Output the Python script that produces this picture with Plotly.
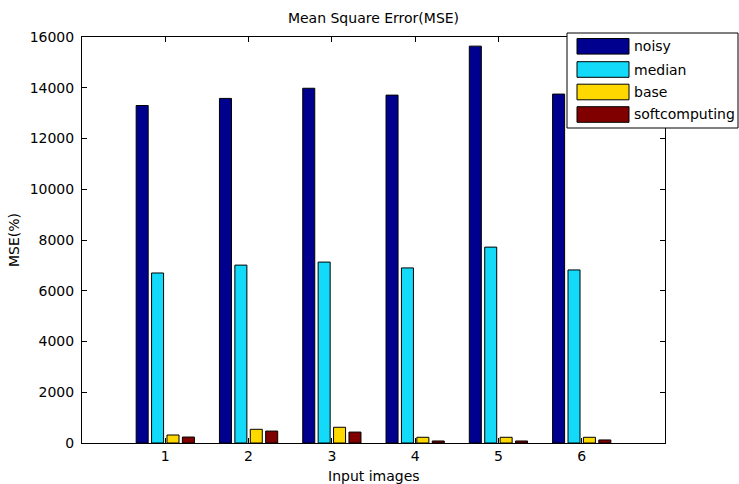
import plotly.graph_objects as go

categories = [1, 2, 3, 4, 5, 6]
tick_labels = ["1", "2", "3", "4", "5", "6"]
noisy = [13300, 13580, 13980, 13710, 15640, 13750]
median = [6700, 7010, 7130, 6900, 7720, 6820]
base = [315, 540, 620, 225, 225, 225]
softcomputing = [235, 470, 430, 80, 80, 120]

series_names = ["noisy", "median", "base", "softcomputing"]
series_values = [noisy, median, base, softcomputing]
series_colors = ["#00008F", "#12DAF8", "#FFD800", "#800000"]

FONT = "DejaVu Sans"
W, H = 739, 484
L, R, T, B = 82, 665, 37, 443

def px_x(p):
    return (p - L) / (R - L)

def px_y(p):
    return (B - p) / (B - T)

fig = go.Figure()
for name, vals, col in zip(series_names, series_values, series_colors):
    fig.add_trace(go.Bar(
        x=categories, y=vals, name=name,
        marker=dict(color=col, line=dict(color="black", width=1)),
        showlegend=False,
    ))

axis_common = dict(
    showline=True, linecolor="black", linewidth=1, mirror="ticks",
    ticks="inside", ticklen=5, tickcolor="black", showgrid=False,
    zeroline=False, tickfont=dict(family=FONT, size=14, color="black"),
)

fig.update_layout(
    width=W, height=H,
    margin=dict(l=L, r=W - R, t=T, b=H - B),
    paper_bgcolor="white", plot_bgcolor="white",
    barmode="group", bargap=0.26, bargroupgap=0.22,
    title=dict(text="Mean Square Error(MSE)", x=0.5, xref="paper",
               y=1 - 18 / H, yref="container", yanchor="middle", xanchor="center",
               font=dict(family=FONT, size=14, color="black")),
    xaxis=dict(range=[0, 7], tickvals=categories, ticktext=tick_labels, **axis_common),
    yaxis=dict(range=[0, 16000], dtick=2000, tickformat="d", ticklabelstandoff=4, **axis_common),
    font=dict(family=FONT, size=14, color="black"),
)

annotations = [
    dict(text="Input images", x=0.5, y=px_y(476), xref="paper", yref="paper",
         xanchor="center", yanchor="middle", showarrow=False,
         font=dict(family=FONT, size=14, color="black")),
    dict(text="MSE(%)", x=px_x(14), y=0.5, xref="paper", yref="paper",
         xanchor="center", yanchor="middle", showarrow=False, textangle=-90,
         font=dict(family=FONT, size=14, color="black")),
]

# custom legend box
shapes = [dict(type="rect", xref="paper", yref="paper",
               x0=px_x(567), x1=px_x(738), y0=px_y(128), y1=px_y(33),
               fillcolor="white", line=dict(color="black", width=1), layer="above")]
row_centers = [46.3, 69.5, 92.0, 114.5]
for name, col, cy in zip(series_names, series_colors, row_centers):
    shapes.append(dict(type="rect", xref="paper", yref="paper",
                       x0=px_x(577), x1=px_x(629), y0=px_y(cy + 7.8), y1=px_y(cy - 7.8),
                       fillcolor=col, line=dict(color="black", width=1), layer="above"))
    annotations.append(dict(text=name, x=px_x(632), y=px_y(cy), xref="paper", yref="paper",
                            xanchor="left", yanchor="middle", showarrow=False,
                            font=dict(family=FONT, size=14, color="black")))

fig.update_layout(shapes=shapes, annotations=annotations)
fig.write_html("out.html")
